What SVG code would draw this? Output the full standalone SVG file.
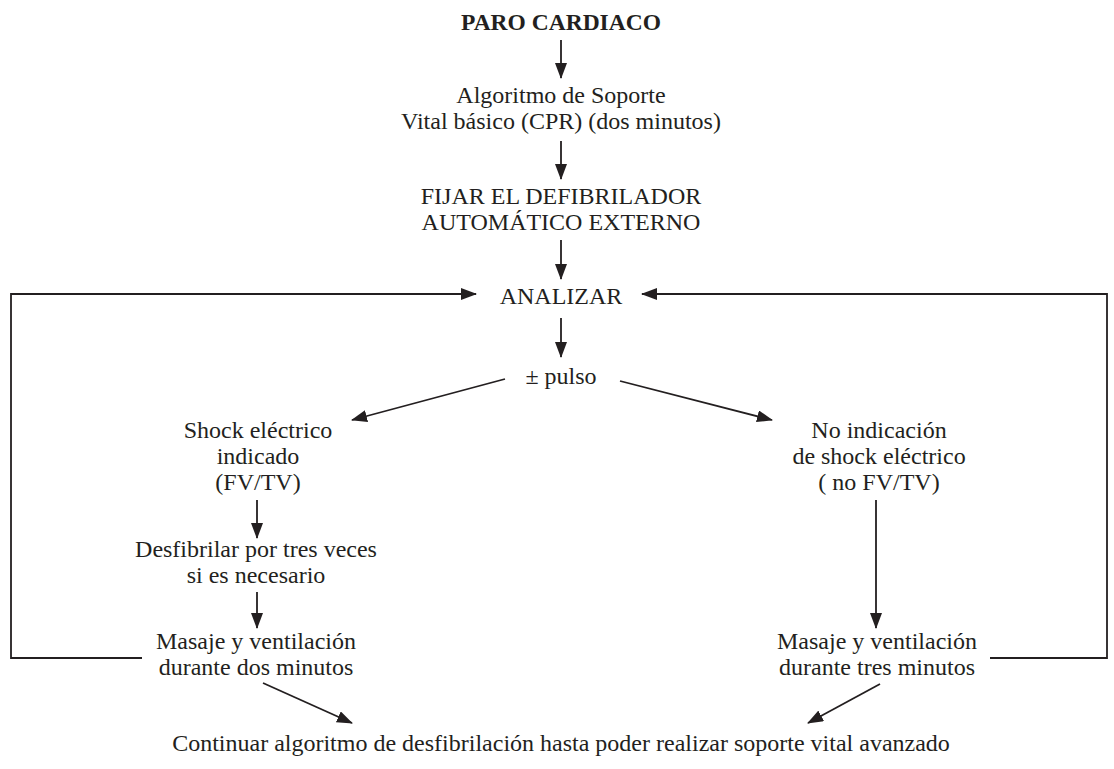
<svg xmlns="http://www.w3.org/2000/svg" width="1114" height="769" viewBox="0 0 1114 769">
  <defs>
    <marker id="arrow" markerUnits="userSpaceOnUse" markerWidth="16" markerHeight="12" viewBox="0 0 16 12" refX="15" refY="6" orient="auto">
      <path d="M0,0 L16,6 L0,12 Z" fill="#231f20"/>
    </marker>
    <style>
      .t { font-family: "Liberation Serif", "Times New Roman", serif; font-size: 24px; fill: #231f20; text-anchor: middle; }
      .b { font-weight: bold; font-size: 23.5px; }
      .c { stroke: #231f20; stroke-width: 1.8; fill: none; }
      .a { marker-end: url(#arrow); }
    </style>
  </defs>
  <rect width="1114" height="769" fill="#ffffff"/>

  <!-- connectors -->
  <g id="connectors">
    <line class="c a" x1="561" y1="40" x2="561" y2="78"/>
    <line class="c a" x1="561" y1="141" x2="561" y2="179"/>
    <line class="c a" x1="561" y1="240" x2="561" y2="279"/>
    <line class="c a" x1="561" y1="318" x2="561" y2="357"/>
    <!-- ± pulso branches -->
    <line class="c a" x1="505" y1="379" x2="352" y2="420"/>
    <line class="c a" x1="620" y1="381" x2="772" y2="420"/>
    <!-- left column -->
    <line class="c a" x1="257" y1="500" x2="257" y2="538"/>
    <line class="c a" x1="257" y1="592" x2="257" y2="628"/>
    <!-- right column -->
    <line class="c a" x1="876" y1="500" x2="876" y2="628"/>
    <!-- loops back to ANALIZAR -->
    <polyline class="c a" points="142,658 11,658 11,294 476,294"/>
    <polyline class="c a" points="990,658 1107,658 1107,294 642,294"/>
    <!-- to final step -->
    <line class="c a" x1="263" y1="683" x2="352" y2="723"/>
    <line class="c a" x1="880" y1="684" x2="808" y2="723"/>
  </g>

  <g id="paro-cardiaco">
    <text class="t b" x="561" y="30">PARO CARDIACO</text>
  </g>
  <g id="soporte-vital-basico">
    <text class="t" x="561" y="103">Algoritmo de Soporte</text>
    <text class="t" x="561" y="129">Vital básico (CPR) (dos minutos)</text>
  </g>
  <g id="fijar-desfibrilador">
    <text class="t" x="561" y="204">FIJAR EL DEFIBRILADOR</text>
    <text class="t" x="561" y="230">AUTOMÁTICO EXTERNO</text>
  </g>
  <g id="analizar">
    <text class="t" x="561" y="304">ANALIZAR</text>
  </g>
  <g id="pulso">
    <text class="t" x="561" y="384">± pulso</text>
  </g>
  <g id="shock-indicado">
    <text class="t" x="258" y="438">Shock eléctrico</text>
    <text class="t" x="258" y="464">indicado</text>
    <text class="t" x="258" y="490">(FV/TV)</text>
  </g>
  <g id="desfibrilar">
    <text class="t" x="256" y="557">Desfibrilar por tres veces</text>
    <text class="t" x="256" y="583">si es necesario</text>
  </g>
  <g id="masaje-dos-minutos">
    <text class="t" x="256" y="649">Masaje y ventilación</text>
    <text class="t" x="256" y="675">durante dos minutos</text>
  </g>
  <g id="no-shock">
    <text class="t" x="879" y="438">No indicación</text>
    <text class="t" x="879" y="464">de shock eléctrico</text>
    <text class="t" x="879" y="490">( no FV/TV)</text>
  </g>
  <g id="masaje-tres-minutos">
    <text class="t" x="877" y="649">Masaje y ventilación</text>
    <text class="t" x="877" y="675">durante tres minutos</text>
  </g>
  <g id="continuar">
    <text class="t" x="561" y="751">Continuar algoritmo de desfibrilación hasta poder realizar soporte vital avanzado</text>
  </g>
</svg>
